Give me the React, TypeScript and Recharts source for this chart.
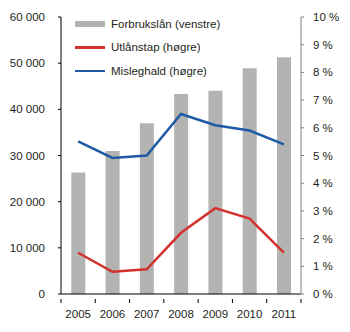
import { ComposedChart, Bar, Line, XAxis, YAxis } from "recharts";

const years = ["2005", "2006", "2007", "2008", "2009", "2010", "2011"];
const forbrukslan = [26300, 31000, 37000, 43300, 44000, 48900, 51300];
const utlanstap = [1.49, 0.8, 0.89, 2.21, 3.1, 2.72, 1.49];
const misleghald = [5.51, 4.91, 5.0, 6.5, 6.09, 5.9, 5.4];
const leftTicks = [0, 10000, 20000, 30000, 40000, 50000, 60000];
const rightTicks = [0, 1, 2, 3, 4, 5, 6, 7, 8, 9, 10];

const data = years.map((year, i) => ({
  year,
  forbrukslan: forbrukslan[i],
  utlanstap: utlanstap[i],
  misleghald: misleghald[i],
}));

const W = 350;
const H = 332;
const LEFT_W = 61;
const RIGHT_W = 49;
const FONT = "'Liberation Sans', Arial, sans-serif";
const TEXT = "#231f20";
const GREY = "#b3b3b1";
const RED = "#d2322d";
const BLUE = "#1f5aa5";

const halfBand = (W - LEFT_W - RIGHT_W) / years.length / 2;

const fmtThousands = (v: number) =>
  String(v).replace(/\B(?=(\d{3})+(?!\d))/g, " ");

const XTick = (props: any) => {
  const { x, y, payload, index } = props;
  const last = index === years.length - 1;
  return (
    <g>
      <line x1={x - halfBand} x2={x - halfBand} y1={y - 3} y2={y + 1} stroke="#000" />
      {last && (
        <line x1={x + halfBand} x2={x + halfBand} y1={y - 3} y2={y + 1} stroke="#000" />
      )}
      <text
        x={x}
        y={y + 16}
        textAnchor="middle"
        fontSize={11.5}
        fontFamily={FONT}
        fill={TEXT}
      >
        {payload.value}
      </text>
    </g>
  );
};

const legendItems = [
  { label: "Forbrukslån (venstre)", color: GREY, thick: 6 },
  { label: "Utlånstap (høgre)", color: RED, thick: 2.5 },
  { label: "Misleghald (høgre)", color: BLUE, thick: 2.5 },
];

const ChartLegend = () => (
  <div
    style={{
      position: "absolute",
      left: 75,
      top: 12,
      fontFamily: FONT,
      fontSize: 11.5,
      color: TEXT,
    }}
  >
    {legendItems.map((item) => (
      <div
        key={item.label}
        style={{ display: "flex", alignItems: "center", height: 23.5 }}
      >
        <div
          style={{
            width: 30,
            height: item.thick,
            background: item.color,
            marginRight: 6,
          }}
        />
        <span>{item.label}</span>
      </div>
    ))}
  </div>
);

export default function App() {
  return (
    <div style={{ position: "absolute", left: 0, top: 0, width: W, height: H, background: "#fff" }}>
      <ComposedChart
        width={W}
        height={H}
        data={data}
        margin={{ top: 17, right: 0, bottom: 0, left: 0 }}
        barCategoryGap="30%"
      >
        <XAxis
          dataKey="year"
          height={38}
          tick={<XTick />}
          tickLine={false}
          axisLine={{ stroke: "#000" }}
          interval={0}
        />
        <YAxis
          yAxisId="left"
          orientation="left"
          width={LEFT_W}
          domain={[0, 60000]}
          ticks={leftTicks}
          tickFormatter={fmtThousands}
          tickSize={3}
          tickMargin={13}
          tickLine={{ stroke: "#000" }}
          axisLine={{ stroke: "#000" }}
          tick={{ fill: TEXT, fontSize: 11.5, fontFamily: FONT }}
          interval={0}
        />
        <YAxis
          yAxisId="right"
          orientation="right"
          width={RIGHT_W}
          domain={[0, 10]}
          ticks={rightTicks}
          tickFormatter={(v: number) => `${v} %`}
          tickSize={3}
          tickMargin={9}
          tickLine={{ stroke: "#808080" }}
          axisLine={{ stroke: "#808080" }}
          tick={{ fill: TEXT, fontSize: 11.5, fontFamily: FONT }}
          interval={0}
        />
        <Bar
          yAxisId="left"
          dataKey="forbrukslan"
          fill={GREY}
          isAnimationActive={false}
        />
        <Line
          yAxisId="right"
          dataKey="utlanstap"
          stroke={RED}
          strokeWidth={2.5}
          dot={false}
          isAnimationActive={false}
        />
        <Line
          yAxisId="right"
          dataKey="misleghald"
          stroke={BLUE}
          strokeWidth={2.5}
          dot={false}
          isAnimationActive={false}
        />
      </ComposedChart>
      <ChartLegend />
    </div>
  );
}
